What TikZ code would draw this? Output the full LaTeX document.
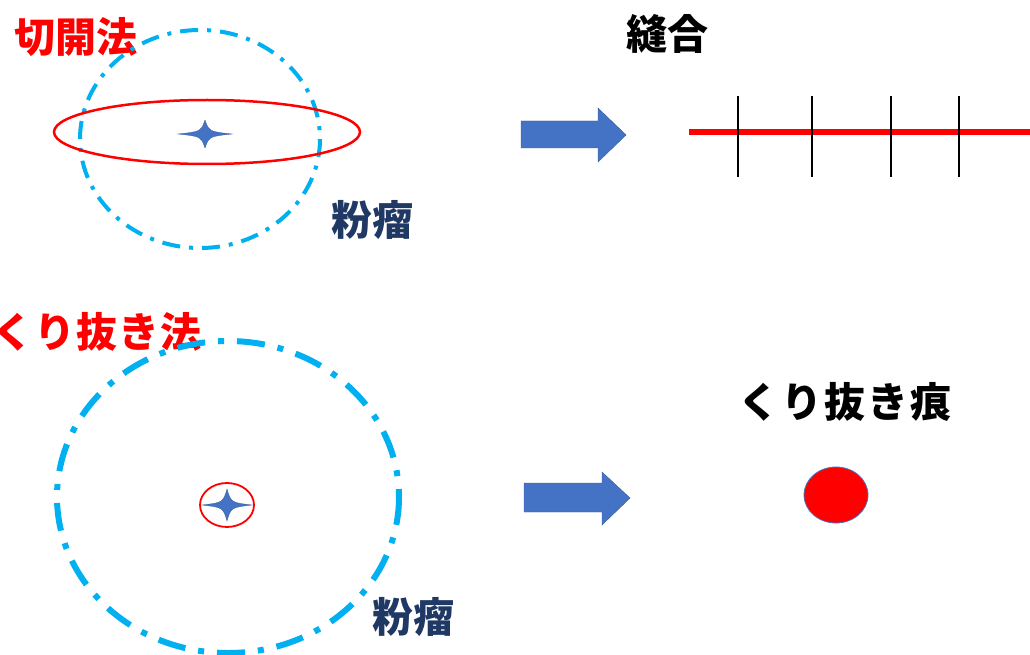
\documentclass[tikz,border=0pt]{standalone}
\usepackage{fontspec}
\newfontfamily\jp{Noto Sans CJK JP}
\definecolor{rred}{HTML}{FF0000}
\definecolor{ccyan}{HTML}{00B0F0}
\definecolor{bblue}{HTML}{4472C4}
\definecolor{nnavy}{HTML}{1F3864}
\tikzset{
  lbl/.style={inner sep=0pt, font=\jp\bfseries\fontsize{41}{44}\selectfont},
  tumor1/.style={draw=ccyan, line width=4pt, dash pattern=on 18pt off 9pt on 4pt off 9pt},
  tumor2/.style={draw=ccyan, line width=6pt, dash pattern=on 28pt off 13pt on 6pt off 13pt},
  cut/.style={draw=rred, line width=2.5pt},
  bigarrow/.style={fill=bblue, draw=bblue!80!black, line width=0.4pt},
  starshape/.style={fill=bblue, draw=bblue!80!black, line width=0.3pt},
  suture/.style={draw=black, line width=2.4pt},
}
\newcommand{\mystar}[4]{% cx cy hx hy
  \fill[starshape] (#1+#3,#2) .. controls (#1+4,#2+2.5) .. (#1,#2+#4)
     .. controls (#1-4,#2+2.5) .. (#1-#3,#2)
     .. controls (#1-4,#2-2.5) .. (#1,#2-#4)
     .. controls (#1+4,#2-2.5) .. cycle;}
\begin{document}
\begin{tikzpicture}[x=1pt,y=-1pt]
\useasboundingbox (0,0) rectangle (1030,655);
% ---- top row ----
\node[lbl, text=rred] (t1) at (76,37) {切開法};
\draw[tumor1] (200,139) ellipse [x radius=120, y radius=109];
\draw[cut] (207,132) ellipse [x radius=153, y radius=32];
\mystar{205}{134}{27}{14}
\node[lbl, text=nnavy] (f1) at (372,220) {粉瘤};
\fill[bigarrow] (521,121) -- (598,121) -- (598,108) -- (626,135) -- (598,162) -- (598,148) -- (521,148) -- cycle;
\node[lbl, text=black] (s1) at (667,34) {縫合};
\coordinate (ls) at (689,132);
\coordinate (le) at (1030,132);
\draw[draw=rred, line width=5.5pt] (ls) -- (le);
\foreach \x in {738,812,891,959}{
  \draw[suture] (\x,96) -- (\x,177);
}
% ---- bottom row ----
\node[lbl, text=rred, anchor=west] (t2) at (-8,332) {く\hspace{1pt}り\hspace{1pt}抜\hspace{1pt}き\hspace{1pt}法};
\draw[tumor2] (228,497) ellipse [x radius=171, y radius=156];
\draw[draw=rred, line width=1.8pt] (227,505) ellipse [x radius=27, y radius=22];
\mystar{227}{505}{25}{16}
\node[lbl, text=nnavy] (f2) at (413,617) {粉瘤};
\fill[bigarrow] (524,483) -- (602,483) -- (602,472) -- (630,498) -- (602,525) -- (602,512) -- (524,512) -- cycle;
\node[lbl, text=black] (s2) at (845,402) {く\hspace{2pt}り\hspace{2pt}抜\hspace{2pt}き\hspace{2pt}痕};
\draw[fill=rred, draw=bblue, line width=0.8pt] (836,495) ellipse [x radius=32, y radius=28];
\end{tikzpicture}
\end{document}
